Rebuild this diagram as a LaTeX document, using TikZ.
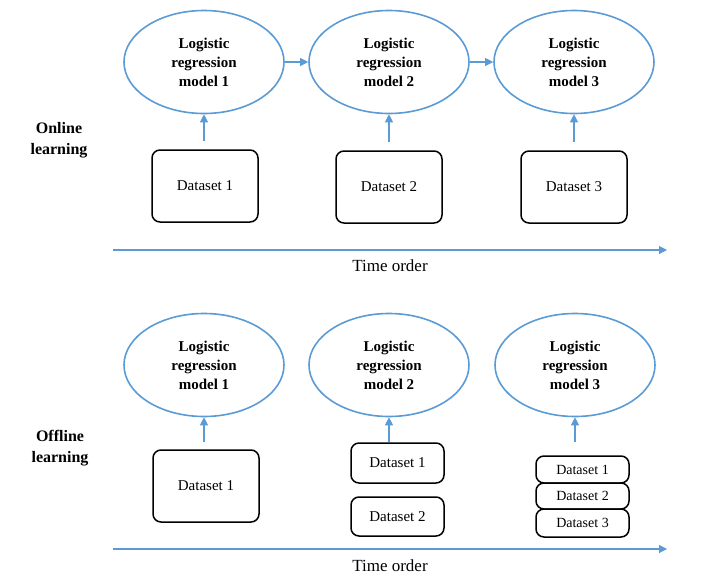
\documentclass[tikz,border=0pt]{standalone}
\usepackage{fontspec}
\setmainfont{Liberation Serif}
\usepackage{tikz}
\usetikzlibrary{arrows,arrows.meta,shapes,positioning}
\definecolor{lineblue}{HTML}{5B9BD5}

\begin{document}
\begin{tikzpicture}[x=1pt,y=1pt]
                    \tikzstyle{every node}+=[inner sep=0pt]
                    \tikzstyle{model}=[ellipse, draw=lineblue, line width=1.6pt, minimum width=160, minimum height=103, align=center, font=\fontsize{15}{19}\selectfont\bfseries]
                    \tikzstyle{data}=[draw=black, line width=1.5pt, rounded corners=8pt, font=\fontsize{15}{18}\selectfont]
                    \tikzstyle{flow}=[draw=lineblue, line width=1.1pt, -{Triangle[length=8pt,width=8pt]}]
                    \tikzstyle{side}=[align=center, font=\fontsize{16}{21}\selectfont\bfseries]
                    \useasboundingbox (0,0) rectangle (710,-584);
                    % online learning
                    \node [side] (on) at (59,-140) {Online\\learning};
                    \node [model] (m1) at (204,-62) {Logistic\\regression\\model 1};
                    \node [model] (m2) at (389,-62) {Logistic\\regression\\model 2};
                    \node [model] (m3) at (574,-62) {Logistic\\regression\\model 3};
                    \node [data, minimum width=106, minimum height=72] (d1) at (205,-186) {Dataset 1};
                    \node [data, minimum width=106, minimum height=72] (d2) at (389,-187) {Dataset 2};
                    \node [data, minimum width=106, minimum height=72] (d3) at (574,-187) {Dataset 3};
                    \draw [flow] (m1) -- (m2);
                    \draw [flow] (m2) -- (m3);
                    \draw [flow, shorten <=8pt] (d1.north -| m1) -- (m1);
                    \draw [flow, shorten <=8pt] (d2) -- (m2);
                    \draw [flow, shorten <=8pt] (d3) -- (m3);
                    \coordinate (ta) at (113,-250);
                    \coordinate (tb) at (667,-250);
                    \draw [flow] (ta) -- (tb);
                    \node [font=\fontsize{17}{20}\selectfont] (to1) at (390,-266) {Time order};
                    % offline learning
                    \node [side] (off) at (60,-448) {Offline\\learning};
                    \node [model] (n1) at (204,-365) {Logistic\\regression\\model 1};
                    \node [model] (n2) at (389,-365) {Logistic\\regression\\model 2};
                    \node [model] (n3) at (575,-365) {Logistic\\regression\\model 3};
                    \node [data, minimum width=106, minimum height=72] (e1) at (206,-486) {Dataset 1};
                    \node [data, minimum width=93, minimum height=40] (e21) at (397.5,-463) {Dataset 1};
                    \node [data, minimum width=93, minimum height=39] (e22) at (397.5,-516.5) {Dataset 2};
                    \node [data, minimum width=93, minimum height=27, font=\fontsize{14}{16}\selectfont] (e31) at (582.5,-469.5) {Dataset 1};
                    \node [data, minimum width=93, minimum height=26, font=\fontsize{14}{16}\selectfont] (e32) at (582.5,-496) {Dataset 2};
                    \node [data, minimum width=93, minimum height=28, font=\fontsize{14}{16}\selectfont] (e33) at (582.5,-523) {Dataset 3};
                    \draw [flow, shorten <=7pt] (e1.north -| n1) -- (n1);
                    \draw [flow] (e21.north -| n2) -- (n2);
                    \draw [flow, shorten <=13pt] (e31.north -| n3) -- (n3);
                    \coordinate (ua) at (113,-549);
                    \coordinate (ub) at (667,-549);
                    \draw [flow] (ua) -- (ub);
                    \node [font=\fontsize{17}{20}\selectfont] (to2) at (390,-566) {Time order};
                \end{tikzpicture}
\end{document}
